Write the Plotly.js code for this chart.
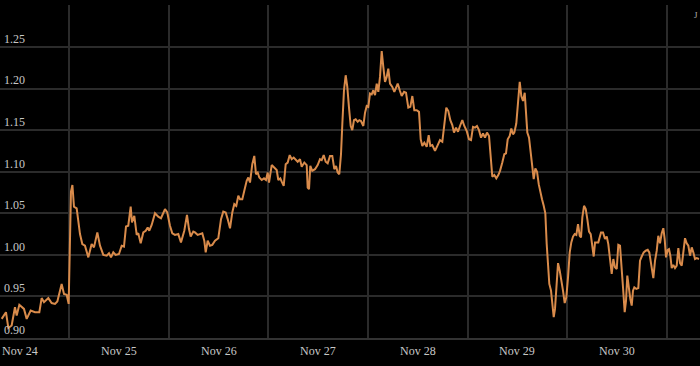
<!DOCTYPE html>
<html>
<head>
<meta charset="utf-8">
<script src="https://cdn.plot.ly/plotly-3.0.1.min.js"></script>
<style>
  html, body { margin: 0; padding: 0; background: #000; }
  #chart { width: 700px; height: 366px; }
</style>
</head>
<body>
<div id="chart"></div>
<script>
// Hours elapsed since Nov 24 00:00 for each sample
const hoursSinceNov24 = [
  7.71, 8.74, 9.31, 10.11, 10.91, 11.32, 11.96, 12.52, 13.08, 13.73,
  14.69, 15.73, 16.78, 17.34, 17.90, 18.95, 19.75, 20.55, 21.12, 22.16,
  22.72, 23.37, 23.85, 24.41, 24.75, 25.13, 25.78, 26.58, 27.14, 27.78,
  28.59, 29.39, 29.95, 30.76, 31.40, 32.20, 33.02, 33.57, 34.05, 34.61,
  35.18, 35.98, 36.63, 37.18, 37.67, 38.22, 38.80, 39.11, 39.67, 40.25,
  40.63, 41.21, 41.84, 42.42, 42.90, 43.28, 43.86, 44.66, 45.45, 46.10,
  47.07, 47.62, 48.27, 48.83, 49.48, 50.27, 50.92, 51.72, 52.37, 52.85,
  53.26, 53.89, 54.30, 54.95, 55.50, 56.06, 56.54, 56.88, 57.36, 57.91,
  58.47, 59.12, 59.92, 60.57, 61.12, 61.70, 62.18, 62.74, 63.29, 63.77,
  64.25, 64.74, 65.15, 65.70, 66.18, 66.76, 67.15, 67.56, 68.11, 68.59,
  69.00, 69.41, 69.80, 70.38, 70.93, 71.41, 71.82, 72.14, 72.79, 73.41,
  73.99, 74.38, 74.86, 75.20, 75.68, 76.16, 76.64, 77.13, 77.61, 78.09,
  79.05, 79.61, 80.02, 80.65, 81.22, 81.46, 81.78, 82.09, 82.57, 83.22,
  83.87, 84.43, 84.84, 85.32, 85.80, 86.28, 86.84, 87.39, 87.88, 88.29,
  88.69, 89.08, 89.49, 89.81, 90.21, 90.62, 91.01, 91.42, 91.83, 92.21,
  92.62, 93.03, 93.52, 93.90, 94.31, 94.87, 95.28, 95.69, 96.07, 96.48,
  96.89, 97.28, 97.69, 98.10, 98.48, 98.89, 99.30, 99.69, 100.10, 100.51,
  100.89, 101.30, 101.86, 102.34, 103.16, 103.71, 104.12, 104.68, 105.16, 105.71,
  106.20, 106.68, 107.16, 107.74, 108.29, 108.70, 109.09, 109.57, 110.15, 110.63,
  111.02, 111.50, 112.15, 112.80, 113.35, 113.91, 114.39, 114.87, 115.36, 115.84,
  116.32, 116.73, 117.21, 117.69, 118.17, 118.73, 119.21, 119.79, 120.34, 120.83,
  121.31, 121.79, 122.27, 122.75, 123.24, 123.72, 124.20, 124.68, 125.17, 125.65,
  125.96, 126.44, 126.92, 127.41, 127.82, 128.37, 128.85, 129.26, 129.67, 130.15,
  130.54, 130.95, 131.26, 131.74, 132.16, 132.57, 132.95, 133.36, 133.77, 134.08,
  134.40, 134.81, 135.22, 135.60, 135.94, 136.33, 136.74, 137.15, 137.53, 137.94,
  138.35, 138.74, 139.07, 139.39, 139.70, 140.11, 140.42, 140.76, 141.07, 141.39,
  141.80, 142.21, 142.59, 143.00, 143.41, 143.80, 144.21, 144.62, 145.00, 145.41,
  145.82, 146.21, 146.62, 147.03, 147.34, 147.66, 148.07, 148.48, 148.86, 149.27,
  149.68, 150.07, 150.40, 150.72, 151.13, 151.51, 152.16, 152.64, 153.13, 153.54,
  153.92, 154.33, 154.74, 155.13, 155.54, 155.95, 156.33, 156.74, 157.15, 157.46,
  157.87, 158.19, 158.50, 158.91, 159.22, 159.56, 159.87, 160.19, 160.67, 161.15,
  161.56, 161.97, 162.45, 162.94, 163.42, 163.80, 164.21, 164.77, 165.18, 165.59,
  165.97, 166.38, 166.79, 167.18, 167.51, 167.83, 168.24, 168.55, 168.87, 169.20,
  169.59, 170.00, 170.41, 170.80, 171.21, 171.62, 172.00, 172.41, 172.82, 173.21,
  173.62, 174.03, 174.41, 174.82, 175.23, 175.78
];

const price = [
  0.923, 0.931, 0.912, 0.915, 0.937, 0.927, 0.940, 0.937, 0.935, 0.923,
  0.933, 0.931, 0.931, 0.948, 0.943, 0.948, 0.942, 0.941, 0.944, 0.965,
  0.953, 0.952, 0.941, 1.076, 1.084, 1.058, 1.056, 1.025, 1.013, 1.011,
  0.997, 1.013, 1.009, 1.027, 1.011, 1.000, 0.999, 1.002, 0.997, 1.003,
  1.000, 1.001, 1.011, 1.010, 1.034, 1.035, 1.058, 1.039, 1.047, 1.024,
  1.026, 1.014, 1.027, 1.029, 1.033, 1.029, 1.036, 1.050, 1.046, 1.044,
  1.055, 1.051, 1.035, 1.026, 1.024, 1.025, 1.015, 1.029, 1.048, 1.031,
  1.022, 1.028, 1.027, 1.024, 1.025, 1.026, 1.017, 1.003, 1.017, 1.011,
  1.012, 1.017, 1.020, 1.043, 1.052, 1.051, 1.043, 1.032, 1.051, 1.061,
  1.059, 1.071, 1.067, 1.067, 1.077, 1.089, 1.093, 1.087, 1.109, 1.119,
  1.097, 1.099, 1.093, 1.090, 1.092, 1.090, 1.099, 1.087, 1.108, 1.105,
  1.102, 1.090, 1.092, 1.088, 1.083, 1.109, 1.111, 1.120, 1.115, 1.117,
  1.112, 1.115, 1.106, 1.111, 1.108, 1.081, 1.079, 1.107, 1.101, 1.103,
  1.108, 1.115, 1.114, 1.120, 1.112, 1.110, 1.119, 1.119, 1.103, 1.107,
  1.099, 1.097, 1.121, 1.157, 1.198, 1.216, 1.202, 1.177, 1.155, 1.150,
  1.162, 1.163, 1.160, 1.162, 1.161, 1.155, 1.171, 1.179, 1.178, 1.194,
  1.193, 1.198, 1.192, 1.206, 1.196, 1.214, 1.245, 1.226, 1.208, 1.214,
  1.224, 1.206, 1.202, 1.196, 1.206, 1.197, 1.191, 1.196, 1.195, 1.177,
  1.178, 1.191, 1.174, 1.174, 1.172, 1.139, 1.131, 1.135, 1.130, 1.144,
  1.131, 1.132, 1.125, 1.132, 1.138, 1.136, 1.161, 1.177, 1.173, 1.162,
  1.156, 1.147, 1.153, 1.148, 1.155, 1.162, 1.155, 1.149, 1.139, 1.138,
  1.154, 1.153, 1.155, 1.150, 1.141, 1.146, 1.141, 1.147, 1.143, 1.109,
  1.094, 1.096, 1.092, 1.096, 1.101, 1.111, 1.121, 1.122, 1.139, 1.143,
  1.152, 1.145, 1.147, 1.158, 1.181, 1.208, 1.191, 1.185, 1.195, 1.169,
  1.147, 1.141, 1.123, 1.105, 1.091, 1.104, 1.100, 1.085, 1.075, 1.067,
  1.059, 1.050, 1.013, 0.985, 0.965, 0.957, 0.941, 0.925, 0.935, 0.965,
  0.990, 0.981, 0.971, 0.957, 0.942, 0.949, 0.973, 1.003, 1.015, 1.022,
  1.025, 1.024, 1.037, 1.023, 1.021, 1.045, 1.059, 1.055, 1.043, 1.028,
  1.025, 1.013, 0.998, 1.015, 1.015, 1.015, 1.027, 1.027, 1.019, 1.022,
  1.013, 0.991, 0.977, 0.995, 0.985, 0.983, 1.012, 1.011, 0.987, 0.961,
  0.931, 0.945, 0.975, 0.957, 0.947, 0.939, 0.957, 0.961, 0.959, 0.960,
  0.993, 0.998, 1.003, 1.005, 1.006, 1.003, 0.991, 0.972, 0.993, 1.005,
  1.023, 1.014, 1.026, 1.032, 1.019, 0.997, 1.006, 1.007, 0.999, 0.984,
  0.988, 0.984, 0.987, 1.008, 0.990, 0.987, 1.003, 1.020, 1.014, 1.011,
  0.999, 1.009, 1.003, 0.995, 0.996, 0.995
];

const dayLabels = ['Nov 24', 'Nov 25', 'Nov 26', 'Nov 27', 'Nov 28', 'Nov 29', 'Nov 30'];
const yTickValues = [0.90, 0.95, 1.00, 1.05, 1.10, 1.15, 1.20, 1.25, 1.30];
const yTickLabels = ['0.90', '0.95', '1.00', '1.05', '1.10', '1.15', '1.20', '1.25', ''];
const viewHours = [7.30, 176.02];

const HOUR = 3600000;
const base = Date.UTC(2023, 10, 24);
const xs = hoursSinceNov24.map(h => base + h * HOUR);
const dayNoon = dayLabels.map((_, i) => base + (i * 24 + 12) * HOUR);

const gridColor = '#2b2b2b';
const labelFont = { family: 'Liberation Serif, serif', size: 12, color: '#c8c8c8' };
const xRange = [base + viewHours[0] * HOUR, base + viewHours[1] * HOUR];

const trace = {
  x: xs,
  y: price,
  type: 'scatter',
  mode: 'lines',
  line: { color: '#d98b4b', width: 2 },
  hoverinfo: 'skip'
};

// Day names centred on each day (noon), placed on the x scale below the axis
const dayAnnotations = dayLabels.map((label, i) => ({
  xref: 'x', yref: 'paper',
  x: dayNoon[i], y: 0,
  yshift: -13,
  xanchor: 'center', yanchor: 'middle',
  text: label, showarrow: false,
  font: labelFont
}));

const layout = {
  width: 700,
  height: 366,
  margin: { l: 0, r: 0, t: 5, b: 28 },
  paper_bgcolor: '#000',
  plot_bgcolor: '#000',
  showlegend: false,
  font: labelFont,
  xaxis: {
    type: 'date',
    range: xRange,
    tickmode: 'linear',
    tick0: base,
    dtick: 24 * HOUR,
    showticklabels: false,
    showgrid: true,
    gridcolor: gridColor,
    gridwidth: 2,
    ticks: '',
    showline: true,
    linecolor: '#333',
    linewidth: 2,
    zeroline: false
  },
  yaxis: {
    range: [0.90, 1.3005],
    tickmode: 'array',
    tickvals: yTickValues,
    ticktext: yTickLabels,
    ticklabelposition: 'inside top',
    ticklabelstandoff: 1,
    showgrid: true,
    gridcolor: gridColor,
    gridwidth: 2,
    zeroline: false,
    ticks: '',
    tickfont: labelFont
  },
  annotations: dayAnnotations.concat([{
    xref: 'paper', yref: 'paper',
    x: 1, y: 0.97,
    xanchor: 'right', yanchor: 'middle',
    text: 'J', showarrow: false,
    font: { family: 'Liberation Serif, serif', size: 9, color: '#aaa' }
  }])
};

Plotly.newPlot('chart', [trace], layout, { displayModeBar: false, staticPlot: true });
</script>
</body>
</html>
